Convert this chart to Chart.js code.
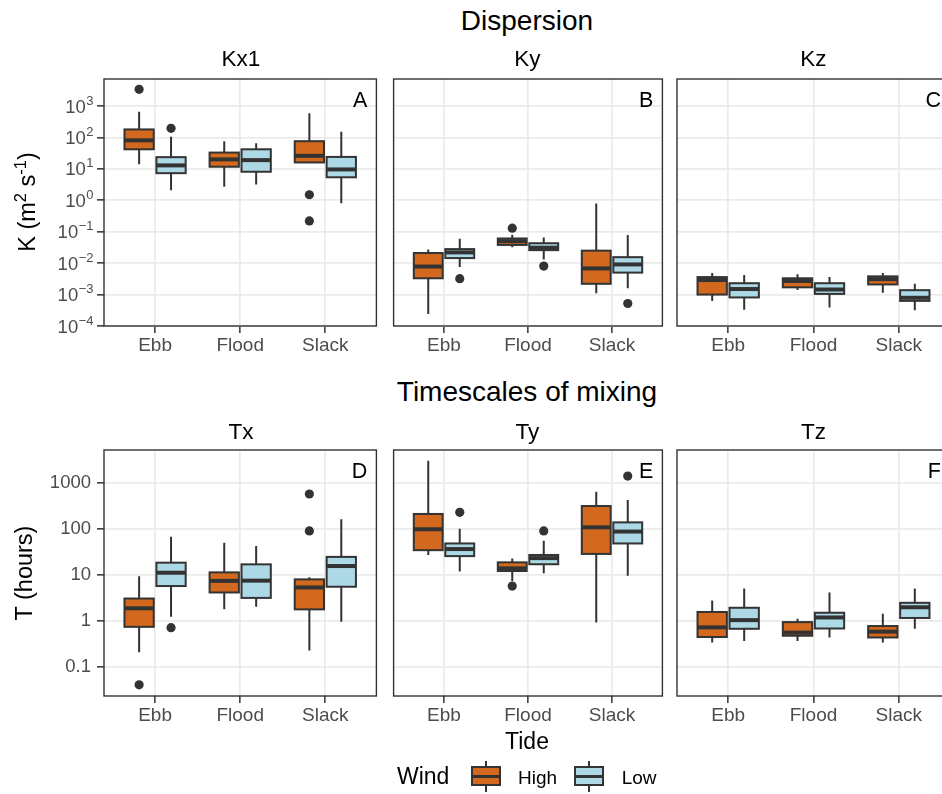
<!DOCTYPE html>
<html>
<head>
<meta charset="utf-8">
<script src="https://cdn.jsdelivr.net/npm/chart.js@4.4.1/dist/chart.umd.min.js"></script>
<style>
  html, body { margin: 0; padding: 0; background: #fff; overflow: hidden; }
  body { width: 942px; height: 794px; position: relative; font-family: "Liberation Sans", Arial, sans-serif; }
  canvas { position: absolute; }
  .txt { position: absolute; white-space: nowrap; line-height: 1; color: #000; }
  .txt sup { font-size: 0.7em; vertical-align: 0; position: relative; top: -0.55em; }
  .key { position: absolute; box-sizing: border-box; }
</style>
</head>
<body>
<script>
const tides = ['Ebb', 'Flood', 'Slack'];
const winds = ['High', 'Low'];
const windColors = ['#D2691E', '#ADD8E6'];

const dispersionTicks = [1e-4, 1e-3, 1e-2, 1e-1, 1, 10, 100, 1000];
const timescaleTicks = [0.1, 1, 10, 100, 1000];

// box stats per tide: [lower whisker, q1, median, q3, upper whisker]
const kx1High = [[14, 42, 81, 180, 656], [2.7, 11.7, 20, 33, 76], [15.5, 16, 26, 76, 585]];
const kx1Low = [[2.1, 7.3, 12.9, 23.6, 105], [3.2, 8.1, 19, 42, 65], [0.8, 5.4, 9.6, 24, 151]];
const kx1HighOut = [[3400], [], [1.5, 0.22]];
const kx1LowOut = [[195], [], []];

const kyHigh = [[0.00024, 0.0033, 0.0078, 0.021, 0.027], [0.032, 0.038, 0.05, 0.061, 0.08], [0.0011, 0.0022, 0.0068, 0.025, 0.79]];
const kyLow = [[0.0076, 0.0145, 0.022, 0.028, 0.06], [0.013, 0.026, 0.031, 0.043, 0.066], [0.0016, 0.005, 0.0091, 0.0155, 0.078]];
const kyHighOut = [[], [0.13], []];
const kyLowOut = [[0.0032], [0.0081], [0.00052]];

const kzHigh = [[0.00062, 0.001, 0.0029, 0.0036, 0.0049], [0.0014, 0.0017, 0.0027, 0.0033, 0.0044], [0.00115, 0.0021, 0.0031, 0.0038, 0.0049]];
const kzLow = [[0.00033, 0.00081, 0.0015, 0.0023, 0.0042], [0.00039, 0.00105, 0.00145, 0.0023, 0.0036], [0.00032, 0.00063, 0.00079, 0.00138, 0.0022]];
const kzHighOut = [[], [], []];
const kzLowOut = [[], [], []];

const txHigh = [[0.21, 0.75, 1.9, 3.1, 9.5], [1.8, 4.2, 7.5, 11.5, 51], [0.23, 1.8, 5.4, 8.1, 9]];
const txLow = [[1.25, 5.8, 11.3, 18.7, 69], [2.05, 3.2, 7.6, 17.2, 43], [0.97, 5.6, 15.8, 25, 166]];
const txHighOut = [[0.041], [], [585, 92]];
const txLowOut = [[0.72], [], []];

const tyHigh = [[27.5, 35, 100, 215, 3100], [7.5, 12.3, 14.1, 19, 23], [0.93, 29, 110, 320, 655]];
const tyLow = [[12, 26, 37, 49, 103], [11, 17.3, 23.5, 27.5, 56], [9.7, 49, 89, 141, 433]];
const tyHighOut = [[], [5.8], []];
const tyLowOut = [[233], [92], [1440]];

const tzHigh = [[0.34, 0.45, 0.73, 1.58, 2.8], [0.37, 0.48, 0.56, 0.95, 1.12], [0.34, 0.44, 0.59, 0.78, 1.44]];
const tzLow = [[0.37, 0.68, 1.05, 1.95, 5.1], [0.44, 0.69, 1.2, 1.52, 4.2], [0.68, 1.17, 2.0, 2.5, 5.1]];
const tzHighOut = [[], [], []];
const tzLowOut = [[], [], []];

const FONT = '"Liberation Sans", Arial, sans-serif';
Chart.defaults.font.family = FONT;

const dodge = [-0.1875, 0.1875];
const boxHalf = 0.172;

function makePanel(p) {
  const canvas = document.createElement('canvas');
  canvas.width = p.width;
  canvas.height = p.height;
  canvas.style.left = p.left + 'px';
  canvas.style.top = p.top + 'px';
  document.body.appendChild(canvas);

  const stats = [p.high, p.low];
  const outs = [p.highOut, p.lowOut];

  const boxPlugin = {
    id: 'boxes',
    beforeDatasetsDraw(chart) {
      const { ctx, scales: { x, y } } = chart;
      const half = x.getPixelForValue(boxHalf) - x.getPixelForValue(0);
      ctx.save();
      stats.forEach((series, w) => {
        series.forEach((s, i) => {
          const cx = x.getPixelForValue(i + dodge[w]);
          const [lo, q1, med, q3, hi] = s.map(v => y.getPixelForValue(v));
          ctx.strokeStyle = '#333333';
          ctx.lineWidth = 2;
          ctx.beginPath();
          ctx.moveTo(cx, hi); ctx.lineTo(cx, q3);
          ctx.moveTo(cx, q1); ctx.lineTo(cx, lo);
          ctx.stroke();
          ctx.fillStyle = windColors[w];
          ctx.fillRect(cx - half, q3, 2 * half, q1 - q3);
          ctx.strokeRect(cx - half, q3, 2 * half, q1 - q3);
          ctx.lineWidth = 4;
          ctx.beginPath();
          ctx.moveTo(cx - half, med); ctx.lineTo(cx + half, med);
          ctx.stroke();
        });
      });
      ctx.restore();
    },
    afterDraw(chart) {
      const { ctx, chartArea: a, scales: { y } } = chart;
      ctx.save();
      ctx.strokeStyle = '#333333';
      ctx.lineWidth = 1.4;
      ctx.strokeRect(a.left, a.top, a.right - a.left, a.bottom - a.top);
      ctx.fillStyle = '#000';
      ctx.font = '21.5px ' + FONT;
      ctx.textAlign = 'right';
      ctx.textBaseline = 'alphabetic';
      ctx.fillText(p.letter, a.right - 9, a.top + 27.5);
      if (p.powerLabels) {
        ctx.fillStyle = '#4D4D4D';
        p.ticks.forEach(v => {
          const py = y.getPixelForValue(v);
          const e = String(Math.round(Math.log10(v))).replace('-', '\u2212');
          ctx.font = '13px ' + FONT;
          const ew = ctx.measureText(e).width;
          const xr = a.left - 10.5;
          ctx.textAlign = 'right';
          ctx.fillText(e, xr, py - 1.5);
          ctx.font = '18.5px ' + FONT;
          ctx.fillText('10', xr - ew - 0.5, py + 6.5);
        });
      }
      ctx.restore();
    }
  };

  const datasets = outs.map((o, w) => ({
    label: winds[w],
    data: o.flatMap((vals, i) => vals.map(v => ({ x: i + dodge[w], y: v }))),
    pointRadius: 4.6,
    pointBackgroundColor: '#333333',
    pointBorderWidth: 0,
    borderColor: '#333333'
  }));

  new Chart(canvas, {
    type: 'scatter',
    data: { datasets },
    options: {
      responsive: false,
      animation: false,
      devicePixelRatio: 1,
      layout: { padding: { top: 20, right: 3, left: 0, bottom: 0 } },
      plugins: { legend: { display: false }, tooltip: { enabled: false } },
      scales: {
        x: {
          type: 'linear',
          min: -0.6,
          max: 2.6,
          afterBuildTicks: s => { s.ticks = tides.map((t, i) => ({ value: i })); },
          afterFit: s => { s.height = 40; },
          border: { display: false },
          grid: { color: '#EBEBEB', lineWidth: 1.7, tickColor: '#333333', tickLength: 7, tickWidth: 1.5 },
          ticks: {
            callback: v => tides[v],
            color: '#4D4D4D',
            font: { size: 19 },
            padding: 1,
            autoSkip: false,
            maxRotation: 0
          }
        },
        y: {
          type: 'logarithmic',
          min: p.min,
          max: p.max,
          afterBuildTicks: s => { s.ticks = p.ticks.map(v => ({ value: v })); },
          afterFit: s => { s.width = p.yWidth; },
          border: { display: false },
          grid: { color: '#EBEBEB', lineWidth: 1.7, drawTicks: p.yTickMarks, tickColor: '#333333', tickLength: 7, tickWidth: 1.5 },
          ticks: {
            display: p.plainLabels,
            callback: v => String(v),
            color: '#4D4D4D',
            font: { size: 18.5 },
            padding: 6,
            autoSkip: false
          }
        }
      }
    },
    plugins: [boxPlugin]
  });
}

const topRow = { top: 59, height: 307, min: 1e-4, max: 7244, ticks: dispersionTicks };
const bottomRow = { top: 430, height: 306, min: 0.0234, max: 5310, ticks: timescaleTicks };
const first = { left: 0, width: 381, yWidth: 104, yTickMarks: true };
const second = { left: 389, width: 278, yWidth: 2, yTickMarks: false, plainLabels: false };
const third = { left: 675, width: 278, yWidth: 2, yTickMarks: false, plainLabels: false };

makePanel({ ...topRow, ...first, plainLabels: false, powerLabels: true, letter: 'A', high: kx1High, low: kx1Low, highOut: kx1HighOut, lowOut: kx1LowOut });
makePanel({ ...topRow, ...second, letter: 'B', high: kyHigh, low: kyLow, highOut: kyHighOut, lowOut: kyLowOut });
makePanel({ ...topRow, ...third, letter: 'C', high: kzHigh, low: kzLow, highOut: kzHighOut, lowOut: kzLowOut });
makePanel({ ...bottomRow, ...first, plainLabels: true, letter: 'D', high: txHigh, low: txLow, highOut: txHighOut, lowOut: txLowOut });
makePanel({ ...bottomRow, ...second, letter: 'E', high: tyHigh, low: tyLow, highOut: tyHighOut, lowOut: tyLowOut });
makePanel({ ...bottomRow, ...third, letter: 'F', high: tzHigh, low: tzLow, highOut: tzHighOut, lowOut: tzLowOut });

// text outside the plots
function addText(html, x, baseline, size, center) {
  const d = document.createElement('div');
  d.className = 'txt';
  d.innerHTML = html;
  d.style.fontSize = size + 'px';
  d.style.top = (baseline - 0.8465 * size) + 'px';
  d.style.left = x + 'px';
  if (center) d.style.transform = 'translateX(-50%)';
  document.body.appendChild(d);
  return d;
}
function addYTitle(html, cx, cy, size) {
  const d = document.createElement('div');
  d.className = 'txt';
  d.innerHTML = html;
  d.style.fontSize = size + 'px';
  d.style.left = cx + 'px';
  d.style.top = cy + 'px';
  d.style.transform = 'translate(-50%, -50%) rotate(-90deg)';
  document.body.appendChild(d);
}

addText('Dispersion', 527, 30.7, 28, true);
addText('Timescales of mixing', 527, 401.7, 28, true);
['Kx1', 'Ky', 'Kz'].forEach((t, i) => addText(t, [241, 527.5, 813.5][i], 66.7, 22.5, true));
['Tx', 'Ty', 'Tz'].forEach((t, i) => addText(t, [241, 527.5, 813.5][i], 440.5, 22.5, true));
addText('Tide', 527, 749.3, 23, true);
addYTitle('K (m<sup>2</sup> s<sup>-1</sup>)', 28, 202, 23.5);
addYTitle('T (hours)', 25, 573, 23.5);

// legend
addText('Wind', 397, 784, 23, false);
function legendKey(left, color) {
  const parts = [
    { l: left + 14, t: 761, w: 2, h: 31, bg: '#333333' },
    { l: left, t: 766, w: 30, h: 20, bg: color, border: true },
    { l: left, t: 774.5, w: 30, h: 3, bg: '#333333' }
  ];
  parts.forEach(q => {
    const d = document.createElement('div');
    d.className = 'key';
    d.style.left = q.l + 'px';
    d.style.top = q.t + 'px';
    d.style.width = q.w + 'px';
    d.style.height = q.h + 'px';
    d.style.background = q.bg;
    if (q.border) d.style.border = '2px solid #333333';
    document.body.appendChild(d);
  });
}
legendKey(470.7, windColors[0]);
addText(winds[0], 518, 784, 19, false);
legendKey(574, windColors[1]);
addText(winds[1], 621.7, 784, 19, false);
</script>
</body>
</html>
